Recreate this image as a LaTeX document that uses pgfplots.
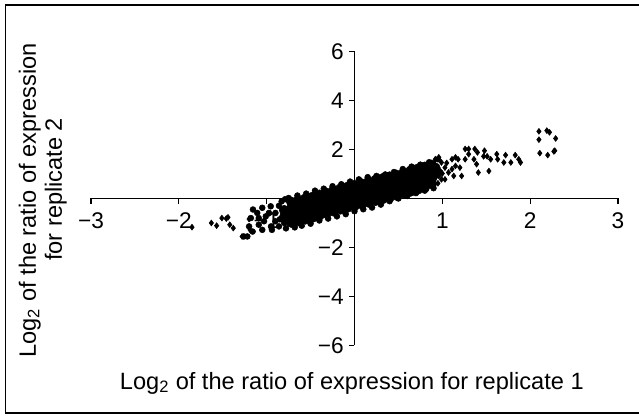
\documentclass[border=0pt]{standalone}
\usepackage{fontspec}
\setmainfont{Liberation Sans}
\usepackage{pgfplots}
\pgfplotsset{compat=1.18}
\begin{document}
\begin{tikzpicture}
\useasboundingbox (0pt,0pt) rectangle (479.25pt,-311.25pt);
\draw[line width=1pt] (479.25pt,-3.75pt) -- (4.1pt,-3.75pt) -- (4.1pt,-309.75pt) -- (479.25pt,-309.75pt);
\begin{axis}[
  at={(68.25pt,-259.1pt)},
  anchor=south west,
  scale only axis,
  width=395.25pt,
  height=220.5pt,
  xmin=-3,xmax=3,
  ymin=-6,ymax=6,
  axis lines=center,
  axis line style={-,line width=1pt,black},
  clip=false,
  tick style={black,line width=0.8pt},
  major tick length=4pt,
  tick align=outside,
  xtick={-3,-2,-1,1,2,3},
  ytick={-6,-4,-2,2,4,6},
  xticklabels={−3,−2,−1,1,2,3},
  yticklabels={−6,−4,−2,2,4,6},
  tick label style={font=\fontsize{17}{20}\selectfont},
  xticklabel style={yshift=-3pt},
  yticklabel style={xshift=-0.5pt},
  xlabel={Log\textsubscript{2} of the ratio of expression for replicate 1},
  ylabel={Log\textsubscript{2} of the ratio of expression\\\hspace*{16.5pt}for replicate 2},
  every axis x label/.style={at={(axis cs:-0.03,-7.53)},anchor=center,font=\fontsize{17.7}{20}\selectfont},
  every axis y label/.style={at={(axis cs:-3.55,-0.08)},anchor=center,rotate=90,align=center,font=\fontsize{17.7}{19.5}\selectfont},
]
% dense core of the cloud
\addplot[only marks,mark=*,mark size=3.75pt,black] coordinates {
(-0.80,-0.76)(-0.80,-0.48)
(-0.72,-0.98)(-0.72,-0.70)(-0.72,-0.42)(-0.72,-0.14)
(-0.64,-0.92)(-0.64,-0.64)(-0.64,-0.36)(-0.64,-0.08)
(-0.56,-0.85)(-0.56,-0.57)(-0.56,-0.29)(-0.56,-0.01)
(-0.48,-0.78)(-0.48,-0.50)(-0.48,-0.22)(-0.48,0.06)
(-0.40,-0.69)(-0.40,-0.41)(-0.40,-0.13)(-0.40,0.15)
(-0.32,-0.61)(-0.32,-0.33)(-0.32,-0.05)(-0.32,0.23)
(-0.24,-0.52)(-0.24,-0.24)(-0.24,0.04)(-0.24,0.32)
(-0.16,-0.44)(-0.16,-0.16)(-0.16,0.12)(-0.16,0.40)
(-0.08,-0.37)(-0.08,-0.09)(-0.08,0.19)(-0.08,0.47)
(0.00,-0.30)(0.00,-0.02)(0.00,0.26)(0.00,0.54)
(0.08,-0.23)(0.08,0.05)(0.08,0.33)(0.08,0.61)
(0.16,-0.16)(0.16,0.12)(0.16,0.40)(0.16,0.68)
(0.24,-0.09)(0.24,0.19)(0.24,0.47)(0.24,0.75)
(0.32,-0.02)(0.32,0.26)(0.32,0.54)(0.32,0.82)
(0.40,0.05)(0.40,0.33)(0.40,0.61)(0.40,0.89)
(0.48,0.12)(0.48,0.40)(0.48,0.68)(0.48,0.96)
(0.56,0.21)(0.56,0.49)(0.56,0.77)(0.56,1.05)
(0.64,0.29)(0.64,0.57)(0.64,0.85)(0.64,1.13)
(0.72,0.37)(0.72,0.65)(0.72,0.93)(0.72,1.21)
(0.80,0.45)(0.80,0.73)(0.80,1.01)(0.80,1.29)
(0.88,0.60)(0.88,0.81)(0.88,1.09)(0.88,1.37)
(0.92,1.00)(0.92,1.25)
};
% blobs at the lower left end and the rough edges of the band
\addplot[only marks,mark=*,mark size=2.2pt,black] coordinates {
(-1.156,-0.45)(-1.05,-0.38)(-0.954,-0.32)(-1.107,-0.59)(-0.974,-0.59)(-0.90,-0.59)(-1.18,-0.80)(-1.09,-0.80)
(-1.01,-0.73)(-1.03,-0.93)(-0.90,-0.93)(-1.20,-1.14)(-1.09,-1.07)(-0.95,-1.14)(-0.86,-1.14)(-1.16,-1.35)
(-1.05,-1.28)(-0.94,-1.28)(-1.26,-1.55)(-1.22,-1.55)(-0.86,-0.30)(-0.83,-0.12)(-0.79,-0.03)(-0.80,-1.00)
(-0.78,-1.22)(-0.85,-0.85)
(-0.75,0.02)(-0.65,0.12)(-0.55,0.20)(-0.45,0.32)(-0.35,0.40)(-0.25,0.50)(-0.15,0.58)(-0.05,0.69)(0.05,0.78)(0.15,0.87)
(0.25,0.92)(0.35,0.98)(0.45,1.08)(0.55,1.20)(0.65,1.30)(0.75,1.38)(0.85,1.48)(0.95,1.60)
(-0.68,-1.18)(-0.60,-1.11)(-0.50,-1.03)(-0.40,-0.90)(-0.30,-0.82)(-0.20,-0.73)(-0.10,-0.64)(0.00,-0.52)
(0.10,-0.44)(0.20,-0.37)(0.30,-0.25)(0.40,-0.11)(0.50,0.00)(0.60,0.10)(0.70,0.22)(0.80,0.32)(0.90,0.42)
};
% separate points
\addplot[only marks,mark=diamond*,mark size=2.2pt,black] coordinates {
(2.10,2.74)(2.19,2.77)(2.22,2.70)(2.10,2.40)(2.29,2.45)(2.11,1.85)(2.20,1.77)(2.27,1.92)(2.28,1.95)
(1.26,2.02)(1.30,2.02)(1.37,2.02)(1.40,1.88)(1.48,1.95)(1.47,1.72)(1.51,1.72)(1.55,1.60)(1.62,1.81)
(1.63,1.60)(1.72,1.77)(1.70,1.47)(1.78,1.47)(1.83,1.77)(1.87,1.60)(1.89,1.47)(1.41,1.06)(1.53,1.12)
(1.36,1.60)(1.30,1.81)(1.26,1.60)(1.39,1.40)(1.18,1.60)(1.20,1.26)(1.22,0.92)(1.11,1.60)(1.15,1.68)
(1.07,1.06)(1.13,0.92)(1.03,0.78)(0.92,1.60)(0.96,1.68)(0.99,1.47)(1.03,1.26)(1.15,1.33)(1.11,1.20)
(0.99,0.78)(0.96,0.92)(0.94,1.30)(0.98,1.10)(1.05,1.45)(0.95,0.62)(1.00,1.02)(0.90,0.72)
(-1.85,-1.17)(-1.63,-1.00)(-1.57,-1.11)(-1.51,-0.80)(-1.44,-0.77)(-1.46,-0.82)(-1.42,-1.07)(-1.38,-1.21)
(-1.28,-1.55)(-1.19,-1.28)(-1.20,-0.84)
};
\end{axis}
\end{tikzpicture}
\end{document}
